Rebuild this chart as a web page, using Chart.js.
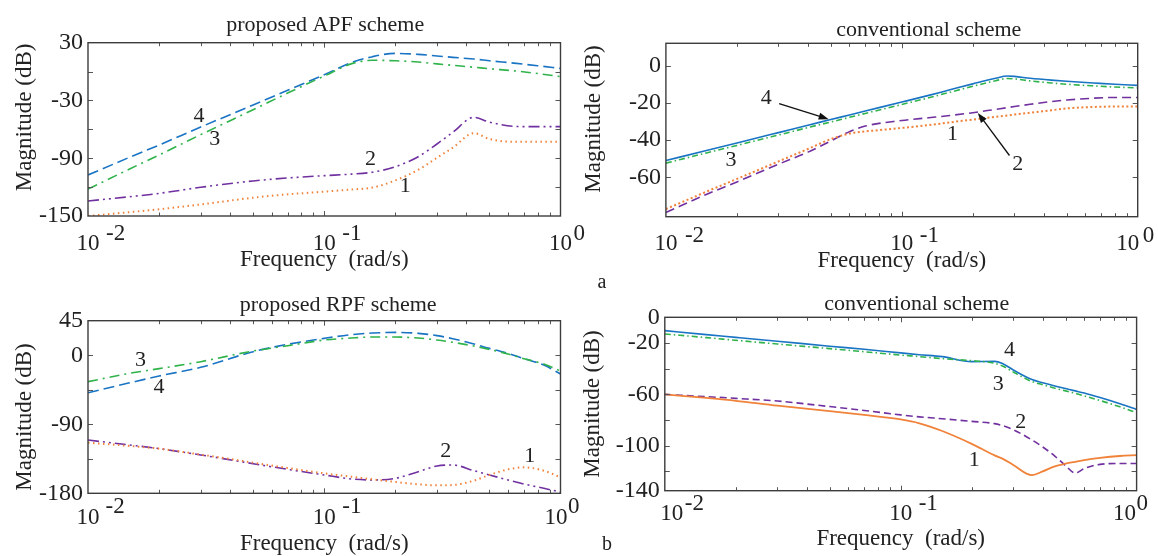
<!DOCTYPE html>
<html lang="en">
  <head>
    <meta charset="UTF-8" />
    <title>Magnitude responses</title>
    <script src="https://cdn.jsdelivr.net/npm/chart.js"></script>
    <style>
      html,
      body {
        margin: 0;
        padding: 0;
        background: #fff;
      }
      #wrap {
        position: relative;
        width: 1158px;
        height: 556px;
        overflow: hidden;
      }
      .cell {
        position: absolute;
      }
      .tag {
        position: absolute;
        font: 20px/20px "Liberation Serif", serif;
        color: #222;
      }
    </style>
  </head>
  <body>
    <div id="wrap">
      <div class="cell" style="left: 0; top: 0; width: 600px; height: 278px"><canvas id="cA"></canvas></div>
      <div class="cell" style="left: 580px; top: 0; width: 578px; height: 278px"><canvas id="cB"></canvas></div>
      <div class="cell" style="left: 0; top: 278px; width: 600px; height: 278px"><canvas id="cC"></canvas></div>
      <div class="cell" style="left: 580px; top: 278px; width: 578px; height: 278px"><canvas id="cD"></canvas></div>
      <div class="tag" style="left: 597.6px; top: 271.2px">a</div>
      <div class="tag" style="left: 602px; top: 533.2px">b</div>
    </div>
    <script>
      // ---- data (frequency in rad/s, magnitude in dB) ----
      const xTickValues = [0.01, 0.1, 1];
      const xTickExponents = ["-2", "-1", "0"];

      // a) proposed APF scheme
      const freqA = [0.01, 0.015, 0.02, 0.03, 0.05, 0.07, 0.1, 0.13, 0.16, 0.2, 0.25, 0.3, 0.35, 0.43, 0.5, 0.65, 0.8, 1];
      const apfCurve1 = [-150, -146, -143, -138, -131, -127.5, -124.7, -122.5, -120.5, -113, -102, -89.5, -79, -64, -70, -73, -73, -72.8];
      const apfCurve2 = [-134.4, -130, -126.5, -120.2, -113.6, -110.5, -108.1, -106.5, -104.5, -98.8, -88.4, -75.2, -63.1, -47.5, -52.5, -57, -57.2, -57.2];
      const apfCurve3 = [-122, -101.2, -86.6, -65.5, -39.6, -22.3, -4.6, 8, 11.8, 11.2, 10, 8, 6.5, 4.5, 3, 0.5, -2, -5.3];
      const apfCurve4 = [-107.4, -89, -76.3, -57.6, -34.7, -19.5, -3.2, 9.2, 15.5, 18.9, 17.9, 16.2, 14.8, 13, 11.3, 8.5, 6.1, 3.3];
      const apfYTicks = [30, -30, -90, -150];
      const apfYLabels = ["30", "-30", "-90", "-150"];
      const apfYMarks = [0, -30, -60, -90, -120];

      // a) conventional scheme
      const freqB = [0.01, 0.015, 0.02, 0.03, 0.04, 0.05, 0.06, 0.07, 0.1, 0.13, 0.16, 0.2, 0.25, 0.28, 0.3, 0.35, 0.43, 0.5, 0.65, 0.8, 1];
      const convACurve1 = [-77.1, -67.5, -60.9, -51.5, -44.8, -39.5, -36.5, -35.4, -33.5, -32, -30.5, -29, -27.5, -26.8, -26.3, -25.3, -24, -23, -22.2, -22, -22];
      const convACurve2 = [-78.9, -69, -62.5, -53, -46.5, -40.5, -35.5, -32.5, -29.5, -28, -26.8, -25.3, -23.5, -22.6, -22, -20.8, -19.3, -18.5, -17.5, -17.1, -17.1];
      const convACurve3 = [-52.4, -46.8, -42.9, -37.3, -33.3, -30.3, -27.8, -25.7, -20.9, -17.3, -14.3, -11.1, -8.1, -6.9, -7.1, -8.2, -9.3, -10, -10.9, -11.5, -12];
      const convACurve4 = [-51, -45.5, -41.6, -36, -32, -29, -26.5, -24.4, -19.6, -16, -13, -9.8, -6.8, -5.6, -5.8, -6.8, -7.8, -8.4, -9.3, -10, -10.6];
      const convAYTicks = [0, -20, -40, -60];
      const convAYLabels = ["0", "-20", "-40", "-60"];
      const convAYMarks = [0, -20, -40, -60];

      // b) proposed RPF scheme
      const freqC = [0.01, 0.015, 0.02, 0.03, 0.05, 0.07, 0.1, 0.13, 0.16, 0.2, 0.25, 0.3, 0.35, 0.43, 0.5, 0.6, 0.7, 0.85, 1];
      const rpfCurve1 = [-114, -118.3, -121.8, -129.6, -140, -147, -154, -158.3, -161.8, -165.2, -168.3, -169.6, -169.2, -163.5, -156.1, -148.8, -146.2, -150.5, -159.2];
      const rpfCurve2 = [-110.6, -117, -121.8, -130, -141.4, -148.8, -156.1, -161.3, -162.6, -160.5, -151.8, -144.4, -143.1, -150.5, -156.1, -162.6, -167.9, -173.5, -178.3];
      const rpfCurve3 = [-34.5, -23.6, -17.5, -8.4, 5.5, 12.4, 19.8, 22.4, 23.7, 23.7, 22.4, 19.8, 16.8, 12, 7.6, 1.6, -4.5, -11.5, -20.6];
      const rpfCurve4 = [-48.9, -36, -27.1, -15.8, 4.6, 14.2, 22, 26.8, 28.9, 29.8, 28.5, 25.5, 21.5, 14.6, 8.9, 2.4, -4.5, -12.8, -24.5];
      const rpfYTicks = [45, 0, -90, -180];
      const rpfYLabels = ["45", "0", "-90", "-180"];
      const rpfYMarks = [0, -45, -90, -135];

      // b) conventional scheme
      const freqD = [0.01, 0.015, 0.02, 0.03, 0.05, 0.07, 0.1, 0.12, 0.15, 0.2, 0.25, 0.27, 0.3, 0.36, 0.4, 0.45, 0.5, 0.55, 0.6, 0.7, 0.85, 1];
      const convBCurve1 = [-60, -62.8, -65, -68.8, -73, -76, -79.5, -82.5, -88.5, -98.5, -107.5, -110, -115, -122.9, -120, -116, -114, -112.5, -111.2, -109.5, -108, -107.3];
      const convBCurve2 = [-60, -61.8, -63.1, -65.2, -69.5, -72.5, -76, -77.5, -79, -81, -82.8, -84.3, -87.5, -95.5, -101, -108, -115.5, -121.3, -117.8, -114.5, -113.8, -113.8];
      const convBCurve3 = [-13, -15.8, -17.9, -20.8, -24.4, -26.8, -29.4, -30.6, -32.2, -33.8, -35.8, -37.9, -42.6, -50, -52.5, -55.2, -57.3, -59.2, -61.2, -64.8, -69.7, -74.3];
      const convBCurve4 = [-10.4, -13.5, -15.6, -18.6, -22.5, -24.9, -27.7, -29.1, -30.6, -34.5, -34.3, -36, -41, -48.5, -51, -53.5, -55.5, -57.3, -59, -62.5, -67.3, -71.7];
      const convBYTicks = [0, -20, -60, -100, -135];
      const convBYLabels = ["0", "-20", "-60", "-100", "-140"];
      const convBYMarks = [-20, -40, -60, -80, -100, -120];

      // ---- styling ----
      const FONT = '"Liberation Serif", "Times New Roman", serif';
      const INK = "#222";
      const C1 = "#f0823a"; // orange
      const C2 = "#7030a0"; // purple
      const C3 = "#2fb34a"; // green
      const C4 = "#1a74c4"; // blue

      function xy(freqs, mags) {
        return freqs.map((f, i) => ({ x: f, y: mags[i] }));
      }

      function line(label, freqs, mags, color, dash, width) {
        return {
          label: label,
          data: xy(freqs, mags),
          borderColor: color,
          borderDash: dash,
          borderWidth: width || 1.6,
          pointRadius: 0,
          fill: false,
          cubicInterpolationMode: "monotone",
        };
      }

      // frame, inward ticks, 10^n labels, titles, curve numbers and arrows
      function decor(cfg) {
        return {
          id: "decor",
          afterDraw(chart) {
            const { ctx, chartArea: a } = chart;
            const x = chart.scales.x;
            const y = chart.scales.y;
            ctx.save();

            ctx.strokeStyle = "#555";
            ctx.lineWidth = 1;
            ctx.beginPath();
            [0.01, 0.1].forEach((d) => {
              for (let k = 1; k <= 9; k++) {
                if (d === 0.01 && k === 1) continue;
                const px = Math.round(x.getPixelForValue(d * k)) + 0.5;
                const len = k === 1 ? 5 : 3.5;
                ctx.moveTo(px, a.bottom);
                ctx.lineTo(px, a.bottom - len);
                ctx.moveTo(px, a.top);
                ctx.lineTo(px, a.top + len);
              }
            });
            cfg.yMarks.forEach((v) => {
              const py = Math.round(y.getPixelForValue(v)) + 0.5;
              ctx.moveTo(a.left, py);
              ctx.lineTo(a.left + 5, py);
              ctx.moveTo(a.right, py);
              ctx.lineTo(a.right - 5, py);
            });
            ctx.stroke();

            ctx.strokeStyle = "#3c3c3c";
            ctx.lineWidth = 1.4;
            ctx.strokeRect(a.left, a.top, a.right - a.left, a.bottom - a.top);

            // 10^n tick labels
            ctx.fillStyle = INK;
            ctx.font = "23px " + FONT;
            ctx.textBaseline = "alphabetic";
            xTickValues.forEach((v, i) => {
              const px = x.getPixelForValue(v);
              ctx.textAlign = "center";
              ctx.fillText("10", px + cfg.tenDx[i], a.bottom + cfg.tenDy);
              ctx.textAlign = "left";
              ctx.fillText(xTickExponents[i], px + cfg.expDx[i], a.bottom + cfg.expDy);
            });

            // y axis title
            ctx.save();
            ctx.translate(cfg.yTitleX, (a.top + a.bottom) / 2 + cfg.yTitleDy);
            ctx.rotate(-Math.PI / 2);
            ctx.textAlign = "center";
            ctx.textBaseline = "middle";
            ctx.fillText("Magnitude (dB)", 0, 0);
            ctx.restore();

            // panel title
            ctx.font = "22px " + FONT;
            ctx.textAlign = "center";
            ctx.fillText(cfg.title, (a.left + a.right) / 2 + cfg.titleDx, a.top - cfg.titleUp);

            // curve numbers
            ctx.textBaseline = "middle";
            cfg.notes.forEach((n) => {
              ctx.fillText(n.text, x.getPixelForValue(n.f), y.getPixelForValue(n.db));
            });

            ctx.strokeStyle = "#111";
            ctx.fillStyle = "#111";
            ctx.lineWidth = 1.3;
            cfg.arrows.forEach((ar) => {
              const x0 = x.getPixelForValue(ar.f0);
              const y0 = y.getPixelForValue(ar.db0);
              const x1 = x.getPixelForValue(ar.f1);
              const y1 = y.getPixelForValue(ar.db1);
              const ang = Math.atan2(y1 - y0, x1 - x0);
              ctx.beginPath();
              ctx.moveTo(x0, y0);
              ctx.lineTo(x1 - 6 * Math.cos(ang), y1 - 6 * Math.sin(ang));
              ctx.stroke();
              ctx.beginPath();
              ctx.moveTo(x1, y1);
              ctx.lineTo(x1 - 10 * Math.cos(ang) + 3.5 * Math.sin(ang), y1 - 10 * Math.sin(ang) - 3.5 * Math.cos(ang));
              ctx.lineTo(x1 - 10 * Math.cos(ang) - 3.5 * Math.sin(ang), y1 - 10 * Math.sin(ang) + 3.5 * Math.cos(ang));
              ctx.closePath();
              ctx.fill();
            });
            ctx.restore();
          },
        };
      }

      function makePanel(id, cfg) {
        const ctx = document.getElementById(id).getContext("2d");
        return new Chart(ctx, {
          type: "line",
          data: { datasets: cfg.datasets },
          plugins: [decor(cfg)],
          options: {
            responsive: true,
            maintainAspectRatio: false,
            animation: false,
            layout: { padding: { left: 0, top: cfg.top, right: cfg.right, bottom: 0 } },
            plugins: { legend: { display: false }, tooltip: { enabled: false } },
            scales: {
              x: {
                type: "logarithmic",
                min: 0.01,
                max: 1,
                ticks: { display: false },
                grid: { display: false, drawTicks: false },
                border: { display: false },
                title: {
                  display: true,
                  text: "Frequency  (rad/s)",
                  color: INK,
                  font: { family: FONT, size: 23, lineHeight: 1 },
                  padding: { top: 0, bottom: cfg.xTitlePad },
                },
                afterFit: (s) => {
                  s.height = cfg.xAxisHeight;
                },
              },
              y: {
                min: cfg.yMin,
                max: cfg.yMax,
                afterBuildTicks: (s) => {
                  s.ticks = cfg.yTicks.map((v) => ({ value: v }));
                },
                ticks: {
                  autoSkip: false,
                  padding: 5,
                  color: INK,
                  font: { family: FONT, size: 24 },
                  callback: (v, i) => cfg.yLabels[i],
                },
                grid: { display: false, drawTicks: false },
                border: { display: false },
                afterFit: (s) => {
                  s.width = cfg.yAxisWidth;
                },
              },
            },
          },
        });
      }

      document.addEventListener("DOMContentLoaded", function () {
        try {
          makePanel("cA", {
            title: "proposed APF scheme",
            titleDx: 1,
            titleUp: 12,
            top: 42.7,
            right: 39.5,
            yAxisWidth: 88,
            xAxisHeight: 62,
            xTitlePad: 6.6,
            yTitleX: 25,
            yTitleDy: -12,
            tenDy: 34,
            expDy: 24,
            tenDx: [0, 0, 0],
            expDx: [18, 18, 13],
            yMin: -150,
            yMax: 30,
            yTicks: apfYTicks,
            yLabels: apfYLabels,
            yMarks: apfYMarks,
            datasets: [
              line("1", freqA, apfCurve1, C1, [1.5, 3.5], 2),
              line("2", freqA, apfCurve2, C2, [11, 4, 2, 4, 2, 4]),
              line("3", freqA, apfCurve3, C3, [10, 5, 2, 5]),
              line("4", freqA, apfCurve4, C4, [11, 5]),
            ],
            notes: [
              { text: "4", f: 0.0295, db: -46.2 },
              { text: "3", f: 0.0344, db: -70.4 },
              { text: "2", f: 0.157, db: -91.1 },
              { text: "1", f: 0.22, db: -119.5 },
            ],
            arrows: [],
          });

          makePanel("cB", {
            title: "conventional scheme",
            titleDx: 27,
            titleUp: 7.6,
            top: 43.3,
            right: 20.3,
            yAxisWidth: 85.9,
            xAxisHeight: 61.3,
            xTitlePad: 6,
            yTitleX: 14,
            yTitleDy: -11,
            tenDy: 33.3,
            expDy: 25,
            tenDx: [0, 0, -10],
            expDx: [19, 18, 5],
            yMin: -81.2,
            yMax: 12,
            yTicks: convAYTicks,
            yLabels: convAYLabels,
            yMarks: convAYMarks,
            datasets: [
              line("1", freqB, convACurve1, C1, [2, 2.5], 2),
              line("2", freqB, convACurve2, C2, [9, 5]),
              line("3", freqB, convACurve3, C3, [6, 3, 1.5, 3]),
              line("4", freqB, convACurve4, C4, []),
            ],
            notes: [
              { text: "4", f: 0.0266, db: -17.7 },
              { text: "3", f: 0.0189, db: -50.6 },
              { text: "1", f: 0.164, db: -36.6 },
              { text: "2", f: 0.31, db: -52.8 },
            ],
            arrows: [
              { f0: 0.0302, db0: -20.4, f1: 0.049, db1: -28.8 },
              { f0: 0.286, db0: -48.3, f1: 0.21, db1: -25.4 },
            ],
          });

          makePanel("cC", {
            title: "proposed RPF scheme",
            titleDx: 14,
            titleUp: 10,
            top: 42.7,
            right: 39.5,
            yAxisWidth: 88,
            xAxisHeight: 62.7,
            xTitlePad: 0.6,
            yTitleX: 25,
            yTitleDy: 10,
            tenDy: 30.7,
            expDy: 19.7,
            tenDx: [0, 0, -4.5],
            expDx: [17.5, 18, 7.5],
            yMin: -180,
            yMax: 45,
            yTicks: rpfYTicks,
            yLabels: rpfYLabels,
            yMarks: rpfYMarks,
            datasets: [
              line("1", freqC, rpfCurve1, C1, [1.5, 3.5], 2),
              line("2", freqC, rpfCurve2, C2, [11, 4, 2, 4, 2, 4]),
              line("3", freqC, rpfCurve3, C3, [10, 5, 2, 5]),
              line("4", freqC, rpfCurve4, C4, [11, 5]),
            ],
            notes: [
              { text: "3", f: 0.0167, db: -6.3 },
              { text: "4", f: 0.02, db: -41.9 },
              { text: "2", f: 0.327, db: -125.7 },
              { text: "1", f: 0.741, db: -132.2 },
            ],
            arrows: [],
          });

          makePanel("cD", {
            title: "conventional scheme",
            titleDx: 16,
            titleUp: 7.3,
            top: 39.3,
            right: 21.4,
            yAxisWidth: 84.8,
            xAxisHeight: 65.3,
            xTitlePad: 5.6,
            yTitleX: 13,
            yTitleDy: 0,
            tenDy: 29,
            expDy: 19.3,
            tenDx: [7, 0, -12],
            expDx: [20, 18, 0],
            yMin: -135,
            yMax: 0,
            yTicks: convBYTicks,
            yLabels: convBYLabels,
            yMarks: convBYMarks,
            datasets: [
              line("1", freqD, convBCurve1, C1, [], 1.8),
              line("2", freqD, convBCurve2, C2, [7, 4]),
              line("3", freqD, convBCurve3, C3, [6, 3, 1.5, 3]),
              line("4", freqD, convBCurve4, C4, []),
            ],
            notes: [
              { text: "4", f: 0.289, db: -25.5 },
              { text: "3", f: 0.259, db: -51.9 },
              { text: "2", f: 0.323, db: -81.3 },
              { text: "1", f: 0.205, db: -111.2 },
            ],
            arrows: [],
          });
        } catch (e) {
          console.error("Chart init failed:", e);
        }
      });
    </script>
  </body>
</html>
